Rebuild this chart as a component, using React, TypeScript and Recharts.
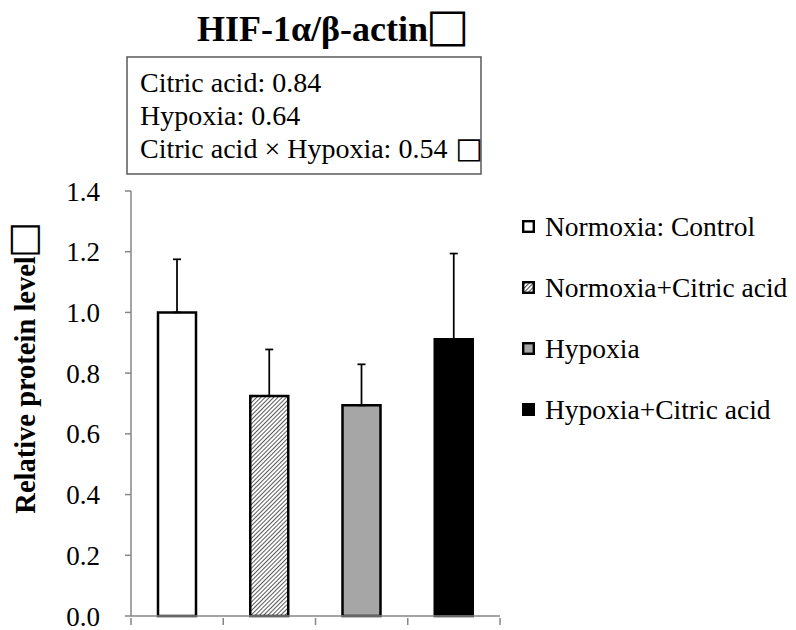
import { BarChart, Bar, Cell, XAxis, YAxis, ErrorBar, Customized } from "recharts";

const SERIF = '"Liberation Serif", "Times New Roman", serif';
const BOX_FONT = '"DejaVu Sans", sans-serif';
const AXIS_GREY = "#868686";

// groups, means and standard deviations
const groups = [
  "Normoxia: Control",
  "Normoxia+Citric acid",
  "Hypoxia",
  "Hypoxia+Citric acid",
];
const means = [1.0, 0.725, 0.694, 0.912];
const sds = [0.175, 0.153, 0.135, 0.282];
const fills = ["#ffffff", "url(#hatch)", "#a6a6a6", "#000000"];

const yTicks = [0, 0.2, 0.4, 0.6, 0.8, 1.0, 1.2, 1.4];

// two-way ANOVA p values shown in the box
const stats = ["Citric acid: 0.84", "Hypoxia: 0.64", "Citric acid × Hypoxia: 0.54"];

const data = groups.map((name, i) => ({
  name,
  mean: means[i],
  err: [0, sds[i]], // upper bar only
}));

// Excel style: tick marks between categories instead of at their centres
function BoundaryTick(props: any) {
  const { x, y, index, width, visibleTicksCount } = props;
  const band = width / visibleTicksCount;
  const last = index === visibleTicksCount - 1;
  return (
    <g>
      <line x1={x - band / 2} x2={x - band / 2} y1={y} y2={y + 7} stroke={AXIS_GREY} strokeWidth={1.5} />
      {last && (
        <line x1={x + band / 2} x2={x + band / 2} y1={y} y2={y + 7} stroke={AXIS_GREY} strokeWidth={1.5} />
      )}
    </g>
  );
}

function Annotations() {
  return (
    <g fontFamily={SERIF} fill="#000">
      <text x={197} y={41} fontSize={36} fontWeight="bold">
        HIF-1α/β-actin
        <tspan fontFamily={BOX_FONT} fontSize={46} dx={-2}>□</tspan>
      </text>
      <rect x={127} y={57} width={354} height={117} fill="#fff" stroke="#595959" strokeWidth={1.5} />
      {stats.map((s, i) => (
        <text key={s} x={140} y={92 + i * 33} fontSize={28}>
          {s}
          {i === stats.length - 1 && (
            <tspan fontFamily={BOX_FONT} fontSize={29} dx={8}>□</tspan>
          )}
        </text>
      ))}
      <text
        transform="translate(35,368) rotate(-90)"
        textAnchor="middle"
        fontSize={28.5}
        fontWeight="bold"
      >
        Relative protein level
        <tspan fontFamily={BOX_FONT} fontSize={38} dx={-2}>□</tspan>
      </text>
    </g>
  );
}

function LegendBox({ fill }: { fill: string }) {
  return (
    <svg width={13} height={13} style={{ marginRight: 10, flex: "none" }}>
      <defs>
        <pattern id="hatch-small" width={3} height={3} patternUnits="userSpaceOnUse" patternTransform="rotate(45)">
          <rect width={3} height={3} fill="#fff" />
          <line x1={0} y1={0} x2={0} y2={3} stroke="#000" strokeWidth={1.4} />
        </pattern>
      </defs>
      <rect
        x={1.2}
        y={1.2}
        width={10.6}
        height={10.6}
        fill={fill === "url(#hatch)" ? "url(#hatch-small)" : fill}
        stroke="#000"
        strokeWidth={2.4}
      />
    </svg>
  );
}

export default function App() {
  return (
    <div
      style={{
        position: "absolute",
        left: 0,
        top: 0,
        width: 796,
        height: 630,
        background: "#fff",
        fontFamily: SERIF,
      }}
    >
      <BarChart
        width={796}
        height={630}
        data={data}
        margin={{ top: 191, right: 296, bottom: 6, left: 0 }}
      >
        <defs>
          <pattern id="hatch" width={3} height={3} patternUnits="userSpaceOnUse" patternTransform="rotate(45)">
            <rect width={3} height={3} fill="#fff" />
            <line x1={0} y1={0} x2={0} y2={3} stroke="#000" strokeWidth={1.3} />
          </pattern>
        </defs>
        <Customized component={Annotations} />
        <YAxis
          type="number"
          domain={[0, 1.4]}
          ticks={yTicks}
          width={131}
          interval={0}
          tickFormatter={(v: number) => v.toFixed(1)}
          axisLine={{ stroke: AXIS_GREY, strokeWidth: 1.5 }}
          tickLine={{ stroke: AXIS_GREY, strokeWidth: 1.5 }}
          tickSize={6}
          tickMargin={25}
          tick={{ fill: "#000", fontSize: 27, fontFamily: SERIF }}
        />
        <XAxis
          dataKey="name"
          height={8}
          axisLine={{ stroke: AXIS_GREY, strokeWidth: 1.5 }}
          tickLine={false}
          tickSize={0}
          interval={0}
          tick={<BoundaryTick />}
        />
        <Bar
          dataKey="mean"
          barSize={38}
          stroke="#000"
          strokeWidth={2.5}
          isAnimationActive={false}
        >
          {data.map((d, i) => (
            <Cell key={d.name} fill={fills[i]} />
          ))}
          <ErrorBar dataKey="err" direction="y" width={4} stroke="#000" strokeWidth={1.75} />
        </Bar>
      </BarChart>
      <div style={{ position: "absolute", left: 522, top: 196, display: "flex", flexDirection: "column" }}>
        {groups.map((g, i) => (
          <div key={g} style={{ height: 61, display: "flex", alignItems: "center", fontSize: 27.5, whiteSpace: "nowrap" }}>
            <LegendBox fill={fills[i]} />
            <span>{g}</span>
          </div>
        ))}
      </div>
    </div>
  );
}
